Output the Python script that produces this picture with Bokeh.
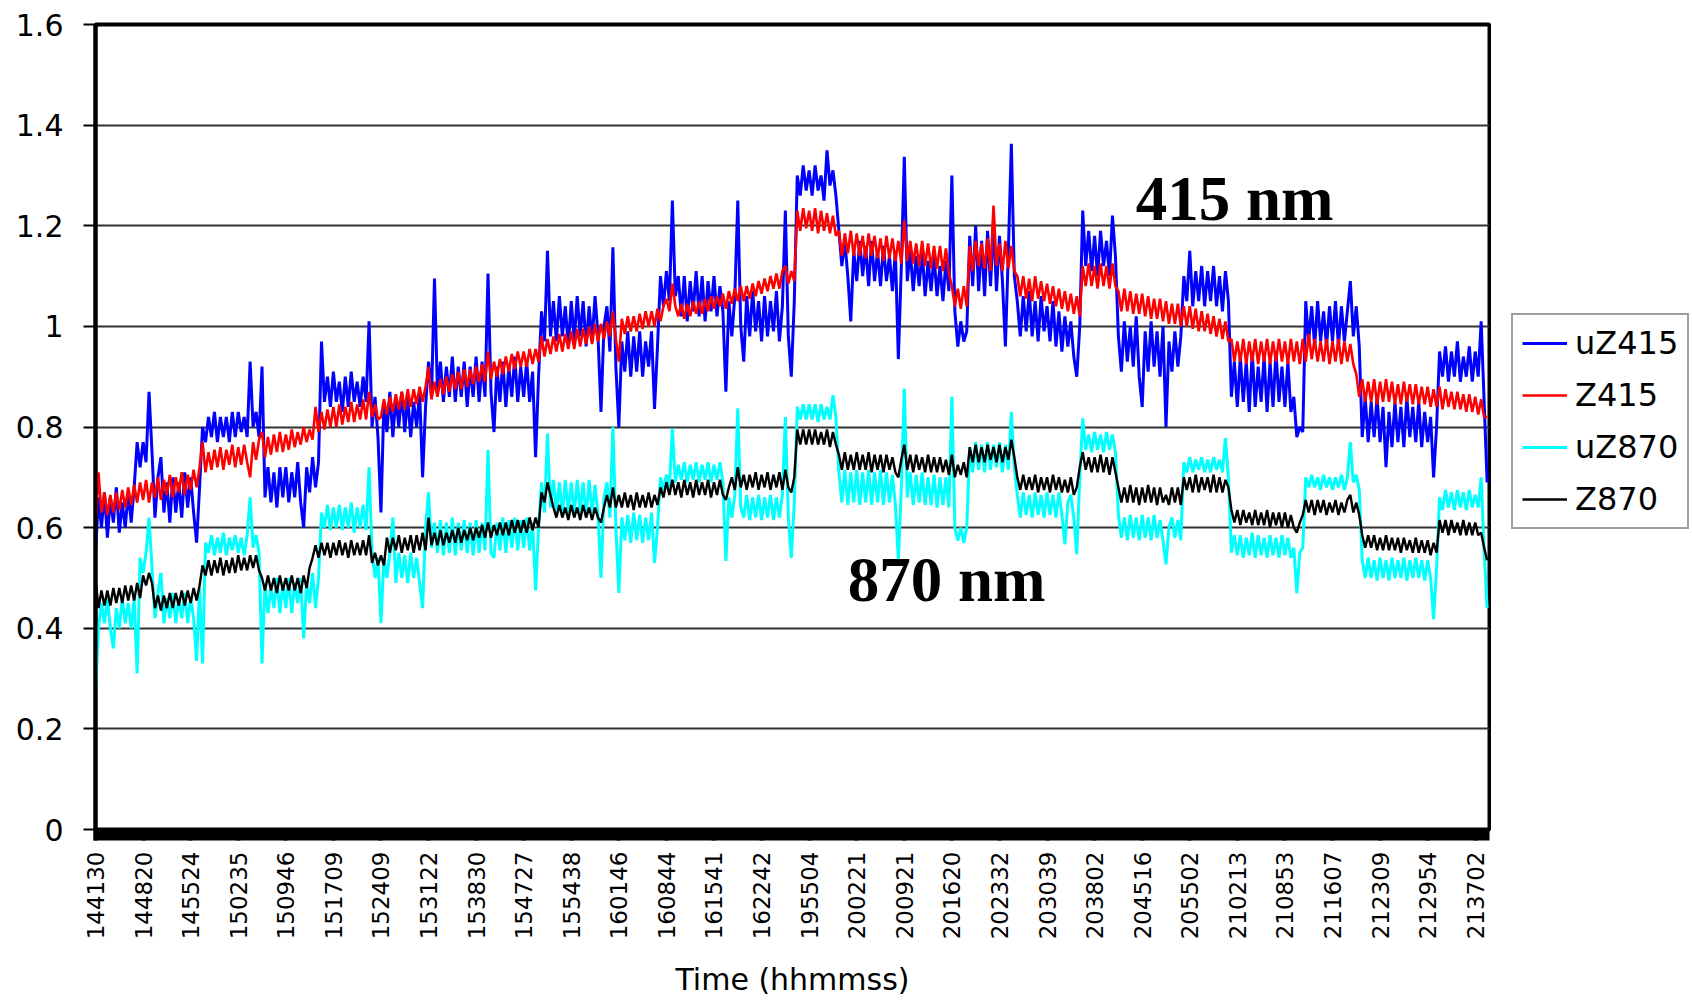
from bokeh.plotting import figure
from bokeh.layouts import row
from bokeh.models import Range1d, FixedTicker, Legend, LegendItem, ColumnDataSource
from bokeh.embed import file_html
from bokeh.resources import INLINE
from bokeh.core.properties import value

# ---------------- data ----------------
time_labels = ["144130", "144820", "145524", "150235", "150946", "151709",
               "152409", "153122", "153830", "154727", "155438", "160146",
               "160844", "161541", "162242", "195504", "200221", "200921",
               "201620", "202332", "203039", "203802", "204516", "205502",
               "210213", "210853", "211607", "212309", "212954", "213702"]
samples_per_label = 16

uZ415 = [0.55, 0.66, 0.60, 0.67, 0.58, 0.66, 0.61, 0.68, 0.59, 0.65, 0.60, 0.67, 0.61, 0.68, 0.77, 0.72,
         0.77, 0.73, 0.87, 0.75, 0.62, 0.70, 0.74, 0.63, 0.69, 0.61, 0.70, 0.63, 0.69, 0.62, 0.71, 0.64,
         0.70, 0.63, 0.57, 0.68, 0.80, 0.77, 0.82, 0.78, 0.83, 0.77, 0.82, 0.78, 0.82, 0.77, 0.83, 0.78,
         0.83, 0.79, 0.82, 0.78, 0.93, 0.80, 0.83, 0.78, 0.92, 0.66, 0.72, 0.65, 0.71, 0.64, 0.72, 0.66,
         0.72, 0.65, 0.71, 0.66, 0.73, 0.65, 0.60, 0.72, 0.67, 0.74, 0.68, 0.73, 0.97, 0.85, 0.90, 0.84,
         0.91, 0.85, 0.89, 0.83, 0.90, 0.84, 0.91, 0.85, 0.89, 0.84, 0.90, 0.85, 1.01, 0.80, 0.86, 0.78,
         0.63, 0.85, 0.79, 0.87, 0.78, 0.86, 0.80, 0.87, 0.79, 0.86, 0.78, 0.85, 0.80, 0.87, 0.70, 0.84,
         0.93, 0.86, 1.095, 0.87, 0.93, 0.85, 0.92, 0.86, 0.94, 0.85, 0.92, 0.86, 0.93, 0.84, 0.92, 0.86,
         0.94, 0.85, 0.93, 0.86, 1.105, 0.87, 0.79, 0.92, 0.85, 0.93, 0.84, 0.92, 0.86, 0.94, 0.85, 0.92,
         0.86, 0.93, 0.85, 0.91, 0.74, 0.90, 1.03, 0.97, 1.15, 0.98, 1.05, 0.97, 1.06, 0.98, 1.04, 0.96,
         1.05, 0.97, 1.06, 0.98, 1.05, 0.96, 1.04, 0.97, 1.06, 0.98, 0.83, 1.00, 1.04, 0.95, 1.157, 0.92,
         0.80, 0.97, 0.91, 0.99, 0.90, 0.98, 0.91, 0.99, 0.90, 0.97, 0.92, 0.99, 0.836, 0.96, 1.10, 1.04,
         1.11, 1.05, 1.25, 1.06, 1.10, 1.02, 1.10, 1.01, 1.09, 1.03, 1.11, 1.02, 1.10, 1.01, 1.09, 1.03,
         1.10, 1.02, 1.08, 1.03, 0.87, 1.05, 0.98, 1.06, 1.25, 1.00, 0.93, 1.06, 0.98, 1.07, 0.99, 1.05,
         0.97, 1.06, 0.98, 1.05, 0.99, 1.07, 0.97, 1.04, 1.23, 0.98, 0.90, 1.05, 1.30, 1.26, 1.32, 1.27,
         1.31, 1.26, 1.32, 1.27, 1.30, 1.25, 1.35, 1.28, 1.31, 1.26, 1.19, 1.12, 1.17, 1.10, 1.01, 1.15,
         1.09, 1.17, 1.10, 1.16, 1.08, 1.17, 1.09, 1.15, 1.08, 1.16, 1.09, 1.14, 1.07, 1.15, 0.935, 1.12,
         1.337, 1.09, 1.15, 1.07, 1.14, 1.08, 1.15, 1.06, 1.13, 1.07, 1.14, 1.06, 1.12, 1.05, 1.13, 1.07,
         1.30, 1.03, 0.96, 1.01, 0.97, 0.99, 1.18, 1.08, 1.20, 1.07, 1.17, 1.06, 1.19, 1.08, 1.21, 1.07,
         1.18, 1.09, 0.96, 1.15, 1.363, 1.10, 1.05, 0.98, 1.06, 0.99, 1.07, 0.98, 1.05, 0.97, 1.06, 0.99,
         1.04, 0.97, 1.05, 0.96, 1.03, 0.95, 1.02, 0.96, 1.01, 0.94, 0.90, 1.00, 1.23, 1.12, 1.19, 1.11,
         1.18, 1.10, 1.19, 1.12, 1.17, 1.10, 1.22, 1.14, 0.98, 0.91, 1.01, 0.93, 1.00, 0.92, 1.02, 0.90,
         0.84, 0.99, 0.91, 1.01, 0.92, 0.99, 0.90, 1.00, 0.80, 0.97, 0.91, 0.99, 0.92, 0.98, 1.10, 1.05,
         1.15, 1.04, 1.11, 1.05, 1.12, 1.04, 1.11, 1.05, 1.12, 1.04, 1.10, 1.03, 1.11, 1.05, 0.86, 0.93,
         0.84, 0.94, 0.85, 0.93, 0.83, 0.95, 0.84, 0.92, 0.85, 0.94, 0.83, 0.93, 0.84, 0.95, 0.85, 0.92,
         0.84, 0.93, 0.83, 0.86, 0.78, 0.80, 0.79, 1.05, 0.97, 1.04, 0.96, 1.05, 0.97, 1.03, 0.96, 1.04,
         0.97, 1.05, 0.96, 1.04, 0.97, 1.03, 1.09, 0.98, 1.04, 0.96, 0.78, 0.86, 0.77, 0.85, 0.78, 0.86,
         0.77, 0.84, 0.72, 0.83, 0.76, 0.85, 0.77, 0.84, 0.76, 0.86, 0.78, 0.84, 0.77, 0.85, 0.76, 0.83,
         0.77, 0.82, 0.70, 0.80, 0.95, 0.90, 0.96, 0.89, 0.95, 0.90, 0.97, 0.89, 0.94, 0.90, 0.96, 0.89,
         0.95, 0.90, 1.01, 0.85, 0.69]

Z415 = [0.60, 0.71, 0.63, 0.67, 0.625, 0.665, 0.63, 0.67, 0.635, 0.675, 0.64, 0.68, 0.645, 0.685, 0.65, 0.69,
        0.655, 0.695, 0.65, 0.69, 0.66, 0.70, 0.655, 0.695, 0.665, 0.705, 0.66, 0.70, 0.67, 0.71, 0.665, 0.705,
        0.675, 0.715, 0.68, 0.72, 0.77, 0.71, 0.75, 0.715, 0.755, 0.72, 0.76, 0.715, 0.755, 0.725, 0.765, 0.72,
        0.76, 0.725, 0.765, 0.73, 0.70, 0.77, 0.735, 0.775, 0.79, 0.74, 0.78, 0.745, 0.785, 0.75, 0.79, 0.75,
        0.785, 0.755, 0.795, 0.76, 0.79, 0.765, 0.80, 0.77, 0.795, 0.775, 0.84, 0.79, 0.83, 0.795, 0.835, 0.80,
        0.84, 0.80, 0.845, 0.805, 0.84, 0.81, 0.85, 0.81, 0.845, 0.815, 0.855, 0.815, 0.87, 0.82, 0.845, 0.815,
        0.82, 0.855, 0.825, 0.86, 0.83, 0.865, 0.835, 0.87, 0.835, 0.875, 0.84, 0.875, 0.845, 0.88, 0.85, 0.88,
        0.92, 0.855, 0.89, 0.86, 0.895, 0.865, 0.90, 0.87, 0.905, 0.875, 0.91, 0.875, 0.915, 0.88, 0.915, 0.885,
        0.92, 0.89, 0.925, 0.89, 0.95, 0.895, 0.93, 0.90, 0.935, 0.905, 0.94, 0.91, 0.945, 0.915, 0.95, 0.92,
        0.95, 0.92, 0.955, 0.925, 0.955, 0.93, 0.98, 0.94, 0.975, 0.945, 0.98, 0.95, 0.985, 0.95, 0.985, 0.955,
        0.99, 0.955, 0.995, 0.96, 0.995, 0.965, 1.00, 0.965, 1.005, 0.97, 1.005, 0.975, 1.01, 0.98, 1.03, 0.975,
        0.93, 1.015, 0.985, 1.02, 0.99, 1.02, 0.99, 1.025, 0.995, 1.03, 1.00, 1.03, 1.00, 1.035, 1.01, 1.04,
        1.055, 1.03, 1.085, 1.04, 1.02, 1.045, 1.015, 1.045, 1.02, 1.05, 1.025, 1.05, 1.025, 1.055, 1.03, 1.06,
        1.035, 1.06, 1.04, 1.065, 1.035, 1.07, 1.045, 1.075, 1.05, 1.08, 1.05, 1.08, 1.055, 1.085, 1.06, 1.09,
        1.065, 1.095, 1.07, 1.10, 1.075, 1.105, 1.075, 1.11, 1.12, 1.085, 1.11, 1.09, 1.23, 1.19, 1.235, 1.195,
        1.23, 1.19, 1.235, 1.185, 1.23, 1.19, 1.225, 1.185, 1.22, 1.18, 1.19, 1.14, 1.185, 1.145, 1.19, 1.14,
        1.185, 1.14, 1.18, 1.135, 1.185, 1.14, 1.18, 1.135, 1.175, 1.13, 1.18, 1.135, 1.175, 1.13, 1.17, 1.125,
        1.21, 1.13, 1.17, 1.125, 1.165, 1.12, 1.17, 1.12, 1.165, 1.115, 1.16, 1.115, 1.16, 1.11, 1.155, 1.105,
        1.08, 1.04, 1.075, 1.035, 1.08, 1.04, 1.16, 1.11, 1.17, 1.12, 1.165, 1.115, 1.175, 1.11, 1.24, 1.12,
        1.165, 1.11, 1.17, 1.115, 1.16, 1.11, 1.10, 1.06, 1.10, 1.055, 1.095, 1.05, 1.10, 1.055, 1.09, 1.05,
        1.085, 1.045, 1.08, 1.04, 1.075, 1.035, 1.07, 1.03, 1.065, 1.025, 1.06, 1.02, 1.12, 1.08, 1.125, 1.08,
        1.12, 1.075, 1.125, 1.08, 1.12, 1.075, 1.125, 1.08, 1.07, 1.03, 1.075, 1.03, 1.07, 1.025, 1.065, 1.025,
        1.065, 1.02, 1.06, 1.015, 1.055, 1.015, 1.055, 1.01, 1.05, 1.005, 1.045, 1.005, 1.045, 1.00, 1.04, 1.00,
        1.04, 0.995, 1.035, 0.99, 1.03, 0.99, 1.025, 0.985, 1.02, 0.98, 1.015, 0.975, 1.01, 0.97, 0.975, 0.93,
        0.97, 0.93, 0.975, 0.925, 0.97, 0.93, 0.975, 0.925, 0.97, 0.93, 0.975, 0.925, 0.97, 0.93, 0.975, 0.93,
        0.97, 0.925, 0.975, 0.93, 0.97, 0.925, 0.975, 0.93, 0.985, 0.935, 0.975, 0.93, 0.97, 0.93, 0.975, 0.925,
        0.97, 0.93, 0.975, 0.925, 0.97, 0.93, 0.965, 0.925, 0.905, 0.86, 0.895, 0.85, 0.89, 0.85, 0.895, 0.845,
        0.89, 0.85, 0.895, 0.85, 0.89, 0.845, 0.885, 0.845, 0.89, 0.85, 0.885, 0.845, 0.885, 0.845, 0.88, 0.845,
        0.88, 0.84, 0.875, 0.84, 0.88, 0.835, 0.875, 0.84, 0.87, 0.835, 0.87, 0.835, 0.865, 0.83, 0.865, 0.83,
        0.86, 0.825, 0.855, 0.82, 0.82]

uZ870 = [0.27, 0.40, 0.45, 0.41, 0.46, 0.40, 0.36, 0.44, 0.40, 0.46, 0.41, 0.45, 0.40, 0.46, 0.31, 0.54,
         0.51, 0.55, 0.62, 0.52, 0.42, 0.47, 0.51, 0.41, 0.46, 0.42, 0.47, 0.41, 0.46, 0.42, 0.47, 0.41,
         0.46, 0.42, 0.335, 0.48, 0.33, 0.57, 0.55, 0.585, 0.545, 0.58, 0.55, 0.59, 0.545, 0.58, 0.555, 0.585,
         0.55, 0.58, 0.545, 0.585, 0.66, 0.56, 0.585, 0.55, 0.33, 0.49, 0.43, 0.48, 0.44, 0.50, 0.43, 0.49,
         0.44, 0.50, 0.43, 0.49, 0.45, 0.50, 0.38, 0.49, 0.45, 0.51, 0.44, 0.50, 0.63, 0.60, 0.645, 0.595,
         0.64, 0.60, 0.645, 0.595, 0.64, 0.60, 0.65, 0.59, 0.64, 0.60, 0.645, 0.595, 0.72, 0.55, 0.50, 0.54,
         0.41, 0.54, 0.50, 0.55, 0.62, 0.49, 0.55, 0.50, 0.545, 0.49, 0.55, 0.50, 0.54, 0.49, 0.44, 0.60,
         0.67, 0.56, 0.61, 0.55, 0.615, 0.545, 0.61, 0.55, 0.62, 0.545, 0.61, 0.555, 0.615, 0.55, 0.61, 0.545,
         0.615, 0.55, 0.61, 0.555, 0.754, 0.55, 0.54, 0.61, 0.555, 0.62, 0.55, 0.615, 0.56, 0.62, 0.555, 0.615,
         0.56, 0.62, 0.555, 0.61, 0.475, 0.60, 0.69, 0.63, 0.787, 0.64, 0.695, 0.63, 0.69, 0.625, 0.695, 0.63,
         0.69, 0.625, 0.695, 0.63, 0.69, 0.62, 0.695, 0.63, 0.685, 0.625, 0.50, 0.66, 0.69, 0.62, 0.80, 0.60,
         0.47, 0.62, 0.575, 0.625, 0.57, 0.63, 0.575, 0.625, 0.57, 0.62, 0.575, 0.63, 0.53, 0.60, 0.70, 0.675,
         0.705, 0.68, 0.797, 0.69, 0.725, 0.695, 0.73, 0.69, 0.725, 0.695, 0.73, 0.69, 0.725, 0.695, 0.73, 0.69,
         0.725, 0.695, 0.73, 0.69, 0.534, 0.66, 0.62, 0.665, 0.837, 0.64, 0.62, 0.665, 0.615, 0.66, 0.62, 0.665,
         0.615, 0.66, 0.62, 0.665, 0.615, 0.66, 0.62, 0.665, 0.82, 0.62, 0.54, 0.65, 0.84, 0.815, 0.845, 0.815,
         0.845, 0.815, 0.845, 0.81, 0.845, 0.815, 0.84, 0.815, 0.863, 0.82, 0.71, 0.65, 0.715, 0.645, 0.71, 0.65,
         0.715, 0.645, 0.71, 0.65, 0.715, 0.645, 0.71, 0.65, 0.715, 0.645, 0.71, 0.65, 0.705, 0.645, 0.534, 0.68,
         0.876, 0.66, 0.71, 0.645, 0.705, 0.65, 0.71, 0.645, 0.70, 0.645, 0.705, 0.64, 0.70, 0.645, 0.70, 0.64,
         0.86, 0.60, 0.574, 0.60, 0.57, 0.60, 0.76, 0.71, 0.77, 0.715, 0.765, 0.71, 0.77, 0.715, 0.765, 0.72,
         0.77, 0.71, 0.765, 0.715, 0.83, 0.72, 0.665, 0.62, 0.67, 0.625, 0.665, 0.62, 0.67, 0.625, 0.665, 0.62,
         0.67, 0.625, 0.665, 0.62, 0.67, 0.625, 0.567, 0.65, 0.665, 0.62, 0.547, 0.70, 0.817, 0.755, 0.785, 0.75,
         0.79, 0.755, 0.785, 0.75, 0.79, 0.755, 0.785, 0.75, 0.625, 0.58, 0.62, 0.575, 0.625, 0.58, 0.62, 0.575,
         0.625, 0.58, 0.62, 0.575, 0.625, 0.58, 0.615, 0.575, 0.527, 0.60, 0.62, 0.58, 0.615, 0.575, 0.73, 0.71,
         0.74, 0.71, 0.735, 0.715, 0.74, 0.71, 0.735, 0.71, 0.74, 0.715, 0.735, 0.71, 0.778, 0.70, 0.55, 0.585,
         0.545, 0.585, 0.54, 0.58, 0.545, 0.59, 0.54, 0.585, 0.545, 0.58, 0.54, 0.585, 0.545, 0.58, 0.54, 0.585,
         0.545, 0.58, 0.54, 0.56, 0.47, 0.55, 0.56, 0.70, 0.68, 0.705, 0.68, 0.70, 0.675, 0.705, 0.68, 0.70,
         0.675, 0.70, 0.68, 0.705, 0.675, 0.70, 0.77, 0.69, 0.705, 0.675, 0.535, 0.50, 0.54, 0.50, 0.535, 0.495,
         0.54, 0.50, 0.535, 0.495, 0.54, 0.50, 0.535, 0.50, 0.54, 0.495, 0.535, 0.50, 0.54, 0.50, 0.535, 0.495,
         0.535, 0.50, 0.418, 0.52, 0.66, 0.635, 0.675, 0.64, 0.67, 0.635, 0.675, 0.64, 0.67, 0.635, 0.675, 0.64,
         0.665, 0.64, 0.70, 0.55, 0.44]

Z870 = [0.50, 0.44, 0.475, 0.445, 0.475, 0.445, 0.48, 0.45, 0.48, 0.45, 0.485, 0.455, 0.485, 0.455, 0.49, 0.46,
        0.505, 0.485, 0.51, 0.49, 0.44, 0.465, 0.435, 0.465, 0.44, 0.47, 0.44, 0.47, 0.445, 0.475, 0.445, 0.475,
        0.45, 0.48, 0.455, 0.485, 0.525, 0.505, 0.535, 0.505, 0.535, 0.51, 0.54, 0.505, 0.535, 0.51, 0.54, 0.51,
        0.545, 0.515, 0.54, 0.515, 0.545, 0.52, 0.545, 0.515, 0.50, 0.475, 0.505, 0.475, 0.50, 0.47, 0.505, 0.475,
        0.50, 0.475, 0.505, 0.475, 0.50, 0.47, 0.505, 0.48, 0.52, 0.54, 0.565, 0.54, 0.57, 0.545, 0.57, 0.54,
        0.57, 0.545, 0.575, 0.545, 0.57, 0.54, 0.575, 0.545, 0.57, 0.545, 0.575, 0.545, 0.585, 0.53, 0.55, 0.525,
        0.545, 0.525, 0.58, 0.55, 0.58, 0.555, 0.585, 0.55, 0.58, 0.555, 0.585, 0.55, 0.585, 0.555, 0.59, 0.555,
        0.62, 0.565, 0.59, 0.565, 0.595, 0.565, 0.59, 0.57, 0.595, 0.57, 0.60, 0.57, 0.595, 0.575, 0.60, 0.575,
        0.60, 0.58, 0.605, 0.58, 0.61, 0.58, 0.605, 0.585, 0.61, 0.585, 0.61, 0.585, 0.615, 0.59, 0.615, 0.59,
        0.615, 0.59, 0.62, 0.595, 0.62, 0.60, 0.67, 0.65, 0.69, 0.665, 0.64, 0.62, 0.645, 0.62, 0.64, 0.615,
        0.645, 0.62, 0.64, 0.615, 0.645, 0.62, 0.64, 0.615, 0.64, 0.62, 0.61, 0.64, 0.665, 0.64, 0.68, 0.64,
        0.665, 0.64, 0.67, 0.64, 0.665, 0.635, 0.67, 0.64, 0.665, 0.64, 0.67, 0.64, 0.665, 0.645, 0.68, 0.66,
        0.69, 0.665, 0.695, 0.665, 0.69, 0.66, 0.695, 0.665, 0.69, 0.66, 0.695, 0.665, 0.69, 0.665, 0.695, 0.66,
        0.69, 0.665, 0.695, 0.665, 0.655, 0.68, 0.70, 0.675, 0.72, 0.68, 0.705, 0.675, 0.705, 0.68, 0.71, 0.675,
        0.705, 0.68, 0.71, 0.675, 0.705, 0.68, 0.71, 0.675, 0.715, 0.68, 0.67, 0.70, 0.795, 0.765, 0.795, 0.765,
        0.795, 0.765, 0.795, 0.765, 0.79, 0.765, 0.795, 0.76, 0.79, 0.765, 0.745, 0.715, 0.75, 0.715, 0.745, 0.715,
        0.75, 0.715, 0.745, 0.715, 0.75, 0.71, 0.745, 0.715, 0.745, 0.71, 0.745, 0.715, 0.74, 0.71, 0.70, 0.735,
        0.765, 0.715, 0.745, 0.71, 0.745, 0.715, 0.74, 0.71, 0.745, 0.71, 0.74, 0.71, 0.74, 0.71, 0.735, 0.705,
        0.745, 0.70, 0.725, 0.705, 0.73, 0.70, 0.76, 0.73, 0.765, 0.73, 0.76, 0.73, 0.765, 0.735, 0.76, 0.73,
        0.765, 0.73, 0.76, 0.735, 0.775, 0.74, 0.70, 0.675, 0.705, 0.675, 0.70, 0.675, 0.705, 0.67, 0.70, 0.675,
        0.70, 0.67, 0.705, 0.675, 0.70, 0.67, 0.695, 0.67, 0.70, 0.665, 0.68, 0.72, 0.75, 0.715, 0.74, 0.71,
        0.74, 0.71, 0.745, 0.71, 0.74, 0.705, 0.74, 0.71, 0.68, 0.65, 0.68, 0.65, 0.685, 0.65, 0.68, 0.645,
        0.68, 0.65, 0.685, 0.65, 0.68, 0.645, 0.68, 0.65, 0.665, 0.645, 0.68, 0.65, 0.68, 0.645, 0.70, 0.675,
        0.70, 0.67, 0.705, 0.67, 0.70, 0.675, 0.70, 0.67, 0.705, 0.67, 0.70, 0.67, 0.695, 0.68, 0.635, 0.61,
        0.635, 0.605, 0.635, 0.61, 0.63, 0.605, 0.635, 0.605, 0.63, 0.605, 0.635, 0.60, 0.63, 0.605, 0.63, 0.60,
        0.63, 0.60, 0.625, 0.60, 0.59, 0.61, 0.625, 0.655, 0.63, 0.655, 0.625, 0.655, 0.63, 0.655, 0.625, 0.65,
        0.63, 0.655, 0.625, 0.65, 0.63, 0.655, 0.665, 0.63, 0.65, 0.625, 0.585, 0.56, 0.585, 0.56, 0.585, 0.555,
        0.58, 0.555, 0.585, 0.555, 0.58, 0.555, 0.58, 0.55, 0.58, 0.555, 0.575, 0.55, 0.58, 0.55, 0.575, 0.55,
        0.575, 0.545, 0.57, 0.55, 0.615, 0.59, 0.615, 0.585, 0.615, 0.59, 0.61, 0.585, 0.615, 0.585, 0.61, 0.585,
        0.61, 0.585, 0.59, 0.56, 0.535]

series_names = ["uZ415", "Z415", "uZ870", "Z870"]
series_values = [uZ415, Z415, uZ870, Z870]

y_tick_values = [0, 0.2, 0.4, 0.6, 0.8, 1.0, 1.2, 1.4, 1.6]
y_tick_labels = ["0", "0.2", "0.4", "0.6", "0.8", "1", "1.2", "1.4", "1.6"]

band_labels = ["415 nm", "870 nm"]

# ---------------- styling ----------------
series_colors = ["#0000FF", "#FF0000", "#00FFFF", "#000000"]
series_widths = [3.0, 2.6, 3.0, 2.4]

n_points = max(len(s) for s in series_values)
x_end = 29.3 * samples_per_label

p = figure(width=1491, height=1000, output_backend="svg", toolbar_location=None,
           x_range=Range1d(0, x_end), y_range=Range1d(0, 1.6),
           min_border_left=95, min_border_right=2,
           min_border_top=24, min_border_bottom=166)
p.background_fill_color = "white"
p.border_fill_color = "white"
p.outline_line_color = "black"
p.outline_line_width = 4

sources = []
for name, vals, col, w in zip(series_names, series_values, series_colors, series_widths):
    src = ColumnDataSource(dict(x=list(range(len(vals))), y=vals))
    sources.append(src)
    p.line("x", "y", source=src, line_color=col, line_width=w)

# band annotations (anchored in data space)
band_src = ColumnDataSource(dict(x=[349.8, 253.0], y=[1.253, 0.495], t=band_labels))
p.text("x", "y", text="t", source=band_src,
       text_font=value("Liberation Serif"), text_font_style="bold",
       text_font_size="63px", text_color="black",
       text_align="left", text_baseline="alphabetic")

# y axis
p.yaxis.ticker = FixedTicker(ticks=y_tick_values)
p.yaxis.major_label_overrides = {v: s for v, s in zip(y_tick_values, y_tick_labels)}
p.yaxis.major_label_text_font = "DejaVu Sans"
p.yaxis.major_label_text_font_size = "30px"
p.yaxis.major_label_text_color = "black"
p.yaxis.major_label_standoff = 20
p.yaxis.axis_line_width = 4
p.yaxis.axis_line_color = "black"
p.yaxis.major_tick_out = 12
p.yaxis.major_tick_in = 0
p.yaxis.major_tick_line_width = 2
p.yaxis.minor_tick_line_color = None

# x axis: a label every samples_per_label points; a tick at every point forms the black bar
label_ticks = [k * samples_per_label for k in range(len(time_labels))]
p.xaxis.ticker = FixedTicker(ticks=label_ticks, minor_ticks=list(range(n_points)))
p.xaxis.major_label_overrides = {t: s for t, s in zip(label_ticks, time_labels)}
p.xaxis.major_label_orientation = 1.5707963
p.xaxis.major_label_text_font = "DejaVu Sans"
p.xaxis.major_label_text_font_size = "23px"
p.xaxis.major_label_text_color = "black"
p.xaxis.major_label_standoff = 11
p.xaxis.axis_line_width = 3
p.xaxis.axis_line_color = "black"
p.xaxis.major_tick_out = 11
p.xaxis.major_tick_in = 0
p.xaxis.major_tick_line_width = 4
p.xaxis.minor_tick_out = 11
p.xaxis.minor_tick_in = 0
p.xaxis.minor_tick_line_width = 4
p.xaxis.minor_tick_line_color = "black"
p.xaxis.axis_label = "Time (hhmmss)"
p.xaxis.axis_label_text_font = "DejaVu Sans"
p.xaxis.axis_label_text_font_size = "30px"
p.xaxis.axis_label_text_font_style = "normal"
p.xaxis.axis_label_text_color = "black"
p.xaxis.axis_label_standoff = 20

# grid
p.xgrid.grid_line_color = None
p.ygrid.ticker = FixedTicker(ticks=y_tick_values)
p.ygrid.grid_line_color = "#333333"
p.ygrid.grid_line_width = 2

# legend: a narrow companion figure to the right of the chart holds the key.
# It draws the same series, but its ranges lie away from the data, so only the key shows.
pl = figure(width=199, height=1000, output_backend="svg", toolbar_location=None,
            x_range=Range1d(-20, -10), y_range=Range1d(-20, -10),
            x_axis_location=None, y_axis_location=None, min_border=0)
pl.outline_line_color = None
pl.xgrid.visible = False
pl.ygrid.visible = False
pl.background_fill_color = "white"
pl.border_fill_color = "white"
key_renderers = []
for src, col, w in zip(sources, series_colors, series_widths):
    key_renderers.append(pl.line("x", "y", source=src, line_color=col, line_width=w))

legend = Legend(items=[LegendItem(label=n, renderers=[r]) for n, r in zip(series_names, key_renderers)],
                location=(20, 300))
legend.label_text_font = "DejaVu Sans"
legend.label_text_font_size = "32px"
legend.label_text_color = "black"
legend.glyph_width = 45
legend.glyph_height = 30
legend.label_height = 30
legend.label_standoff = 8
legend.spacing = 14
legend.padding = 9
legend.margin = 0
legend.border_line_color = "#404040"
legend.border_line_width = 2
legend.background_fill_color = "white"
legend.background_fill_alpha = 1.0
pl.add_layout(legend)

layout = row(p, pl)
open("out.html", "w").write(file_html(layout, INLINE))
